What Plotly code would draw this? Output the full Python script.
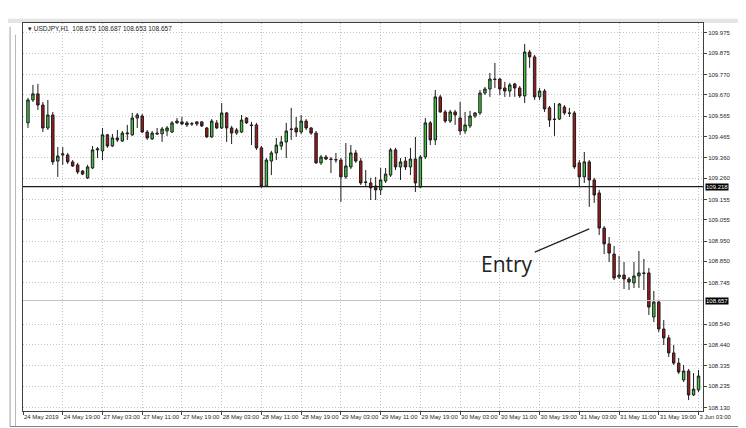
import plotly.graph_objects as go

# USDJPY H1 candles, 24 May 2019 12:00 -> 3 Jun 2019 03:00
opens = [109.532, 109.645, 109.675, 109.620, 109.507, 109.571, 109.344, 109.374, 109.374, 109.340,
         109.325, 109.295, 109.261, 109.310, 109.399, 109.394, 109.473, 109.418, 109.458, 109.443,
         109.478, 109.473, 109.556, 109.566, 109.487, 109.453, 109.482, 109.478, 109.492, 109.487,
         109.532, 109.537, 109.532, 109.529, 109.527, 109.537, 109.507, 109.463, 109.532, 109.507,
         109.581, 109.507, 109.482, 109.487, 109.556, 109.522, 109.522, 109.409, 109.221, 109.344,
         109.384, 109.418, 109.438, 109.502, 109.507, 109.487, 109.541, 109.507, 109.482, 109.335,
         109.364, 109.354, 109.349, 109.349, 109.266, 109.315, 109.384, 109.344, 109.241, 109.236,
         109.221, 109.202, 109.246, 109.275, 109.399, 109.315, 109.344, 109.315, 109.354, 109.216,
         109.364, 109.532, 109.448, 109.660, 109.586, 109.541, 109.586, 109.556, 109.492, 109.517,
         109.566, 109.581, 109.679, 109.699, 109.748, 109.748, 109.704, 109.689, 109.724, 109.704,
         109.665, 109.881, 109.857, 109.660, 109.689, 109.606, 109.551, 109.551, 109.610, 109.581,
         109.581, 109.335, 109.266, 109.340, 109.251, 109.187, 109.014, 108.936, 108.886, 108.773,
         108.783, 108.763, 108.744, 108.778, 108.793, 108.793, 108.576, 108.650, 108.517, 108.473,
         108.399, 108.349, 108.266, 108.310, 108.192, 108.217]
highs = [109.655, 109.719, 109.724, 109.635, 109.645, 109.586, 109.413, 109.413, 109.384, 109.349,
         109.335, 109.300, 109.325, 109.418, 109.413, 109.507, 109.478, 109.478, 109.497, 109.492,
         109.522, 109.581, 109.581, 109.576, 109.497, 109.492, 109.507, 109.512, 109.517, 109.541,
         109.556, 109.561, 109.541, 109.537, 109.541, 109.541, 109.512, 109.551, 109.546, 109.630,
         109.586, 109.517, 109.507, 109.571, 109.561, 109.537, 109.532, 109.418, 109.359, 109.394,
         109.458, 109.468, 109.532, 109.606, 109.561, 109.571, 109.551, 109.512, 109.492, 109.374,
         109.374, 109.364, 109.384, 109.359, 109.433, 109.423, 109.399, 109.359, 109.300, 109.261,
         109.266, 109.310, 109.310, 109.409, 109.409, 109.359, 109.364, 109.409, 109.463, 109.374,
         109.556, 109.541, 109.694, 109.670, 109.596, 109.596, 109.596, 109.635, 109.586, 109.591,
         109.586, 109.694, 109.709, 109.778, 109.827, 109.753, 109.734, 109.729, 109.729, 109.714,
         109.921, 109.891, 109.867, 109.704, 109.699, 109.615, 109.630, 109.630, 109.620, 109.606,
         109.591, 109.349, 109.389, 109.349, 109.261, 109.202, 109.024, 108.970, 108.926, 108.877,
         108.847, 108.773, 108.847, 108.901, 108.862, 108.817, 108.704, 108.660, 108.561, 108.487,
         108.438, 108.374, 108.340, 108.320, 108.300, 108.315]
lows = [109.507, 109.635, 109.596, 109.487, 109.497, 109.325, 109.266, 109.325, 109.330, 109.315,
        109.280, 109.275, 109.256, 109.305, 109.359, 109.349, 109.409, 109.413, 109.438, 109.438,
        109.448, 109.468, 109.507, 109.482, 109.448, 109.448, 109.473, 109.438, 109.468, 109.482,
        109.527, 109.522, 109.512, 109.517, 109.517, 109.512, 109.458, 109.458, 109.502, 109.502,
        109.438, 109.428, 109.473, 109.482, 109.527, 109.423, 109.399, 109.212, 109.216, 109.275,
        109.349, 109.399, 109.359, 109.448, 109.463, 109.478, 109.497, 109.473, 109.330, 109.325,
        109.349, 109.285, 109.335, 109.143, 109.256, 109.305, 109.335, 109.226, 109.216, 109.152,
        109.152, 109.177, 109.236, 109.266, 109.300, 109.251, 109.300, 109.275, 109.192, 109.212,
        109.354, 109.423, 109.423, 109.581, 109.532, 109.532, 109.522, 109.473, 109.478, 109.507,
        109.556, 109.571, 109.670, 109.660, 109.704, 109.670, 109.660, 109.660, 109.660, 109.655,
        109.630, 109.803, 109.645, 109.645, 109.586, 109.512, 109.468, 109.546, 109.571, 109.561,
        109.305, 109.216, 109.236, 109.118, 109.138, 108.980, 108.886, 108.847, 108.758, 108.763,
        108.714, 108.709, 108.719, 108.719, 108.709, 108.586, 108.551, 108.502, 108.438, 108.379,
        108.340, 108.295, 108.256, 108.167, 108.187, 108.207]
closes = [109.645, 109.675, 109.620, 109.507, 109.571, 109.340, 109.369, 109.379, 109.340, 109.320,
          109.290, 109.280, 109.315, 109.399, 109.404, 109.473, 109.418, 109.458, 109.448, 109.482,
          109.482, 109.556, 109.571, 109.487, 109.458, 109.482, 109.478, 109.502, 109.507, 109.532,
          109.541, 109.527, 109.522, 109.527, 109.537, 109.517, 109.463, 109.541, 109.507, 109.581,
          109.507, 109.482, 109.497, 109.546, 109.532, 109.519, 109.409, 109.221, 109.349, 109.384,
          109.423, 109.438, 109.492, 109.500, 109.487, 109.541, 109.507, 109.482, 109.335, 109.364,
          109.354, 109.352, 109.351, 109.266, 109.320, 109.384, 109.344, 109.236, 109.239, 109.212,
          109.202, 109.251, 109.280, 109.399, 109.315, 109.340, 109.315, 109.354, 109.236, 109.364,
          109.532, 109.448, 109.660, 109.586, 109.541, 109.586, 109.571, 109.492, 109.522, 109.566,
          109.581, 109.679, 109.699, 109.748, 109.746, 109.699, 109.689, 109.719, 109.704, 109.665,
          109.881, 109.857, 109.660, 109.689, 109.601, 109.546, 109.549, 109.625, 109.581, 109.579,
          109.315, 109.266, 109.340, 109.251, 109.177, 109.014, 108.936, 108.891, 108.768, 108.783,
          108.763, 108.748, 108.778, 108.793, 108.791, 108.625, 108.650, 108.517, 108.473, 108.399,
          108.349, 108.305, 108.310, 108.192, 108.221, 108.285]
bars = list(range(len(opens)))

time_ticks = [-1, 7, 15, 23, 31, 39, 47, 55, 63, 71, 79, 87, 95, 103, 111, 119, 127, 135]
time_labels = ["24 May 2019", "24 May 19:00", "27 May 03:00", "27 May 11:00", "27 May 19:00",
               "28 May 03:00", "28 May 11:00", "28 May 19:00", "29 May 03:00", "29 May 11:00",
               "29 May 19:00", "30 May 03:00", "30 May 11:00", "30 May 19:00", "31 May 03:00",
               "31 May 11:00", "31 May 19:00", "3 Jun 03:00"]
price_ticks = [109.975, 109.875, 109.770, 109.670, 109.565, 109.465, 109.360, 109.260, 109.155,
               109.055, 108.950, 108.850, 108.745, 108.540, 108.440, 108.335, 108.235, 108.130]
price_labels = ["%.3f" % p for p in price_ticks]

level_line = 109.218
bid_line = 108.657
header = "▾ USDJPY,H1  108.675 108.687 108.653 108.657"
entry_bar, entry_price = 113, 109.010

fig = go.Figure()
fig.add_trace(go.Candlestick(
    x=bars, open=opens, high=highs, low=lows, close=closes,
    increasing=dict(fillcolor="#3fc43f", line=dict(color="#1e1e1e", width=1)),
    decreasing=dict(fillcolor="#a3161a", line=dict(color="#1e1e1e", width=1)),
    whiskerwidth=0, showlegend=False, hoverinfo="skip",
))

# grey bid line and the black horizontal level line
fig.add_hline(y=bid_line, line=dict(color="#c4c4c4", width=1))
fig.add_hline(y=level_line, line=dict(color="#1a1a1a", width=1.3))

for lvl in [level_line, bid_line]:
    fig.add_annotation(xref="paper", x=1.0, y=lvl, text="%.3f" % lvl, showarrow=False,
                       xanchor="left", xshift=2, bgcolor="#000000",
                       font=dict(family="Liberation Sans", size=6, color="white"),
                       borderpad=0)

fig.add_annotation(x=entry_bar, y=entry_price, ax=-82, ay=35, text="Entry",
                   showarrow=True, arrowhead=0, arrowwidth=1.2, arrowcolor="#222222",
                   font=dict(family="Open Sans", size=21, color="#222222"))

fig.add_annotation(xref="paper", yref="paper", x=0.004, y=0.985, text=header, showarrow=False,
                   xanchor="left", yanchor="middle",
                   font=dict(family="Liberation Sans", size=6.5, color="#222222"))

# window frame bits around the chart
frame = [
    dict(type="rect", xref="paper", yref="paper", x0=-0.034, x1=1.06, y0=1.0, y1=1.011,
         fillcolor="#e4e4e4", line_width=0, layer="below"),
    dict(type="line", xref="paper", yref="paper", x0=-0.019, x1=-0.019, y0=-0.04, y1=0.99,
         line=dict(color="#a0a0a0", width=1)),
    dict(type="line", xref="paper", yref="paper", x0=-0.011, x1=-0.011, y0=-0.04, y1=0.97,
         line=dict(color="#b8b8b8", width=1)),
    dict(type="line", xref="paper", yref="paper", x0=1.055, x1=1.055, y0=-0.04, y1=1.01,
         line=dict(color="#808080", width=1)),
    dict(type="line", xref="paper", yref="paper", x0=-0.019, x1=1.055, y0=-0.04, y1=-0.04,
         line=dict(color="#808080", width=1)),
    dict(type="rect", xref="paper", yref="paper", x0=1.058, x1=1.1, y0=-0.05, y1=1.06,
         fillcolor="#e6e6e6", line_width=0),
]
for s in frame:
    fig.add_shape(**s)

# the page body adds an 8px offset, so the figure is 8px smaller and the left/top margins too
fig.update_layout(
    width=738, height=420,
    margin=dict(l=15, r=43, t=15, b=17, autoexpand=False),
    paper_bgcolor="white", plot_bgcolor="white",
    font=dict(family="Liberation Sans", size=6, color="#1e1e1e"),
    xaxis=dict(range=[-1, 135.9], tickvals=time_ticks, ticktext=time_labels, tickangle=0,
               ticklabelposition="outside right", ticks="outside", ticklen=3,
               tickcolor="#404040", showgrid=True, gridcolor="#c4c4c4", griddash="1px,2px",
               gridwidth=1, showline=True, linecolor="#404040", mirror=True, automargin=False,
               zeroline=False, rangeslider=dict(visible=False), fixedrange=True),
    yaxis=dict(range=[108.113, 110.024], side="right", tickvals=price_ticks,
               ticktext=price_labels, ticks="outside", ticklen=3, tickcolor="#404040",
               showgrid=True, gridcolor="#c4c4c4", griddash="1px,2px", gridwidth=1,
               automargin=False, showline=True, linecolor="#404040", mirror=True,
               zeroline=False),
)

fig.write_html("out.html")
